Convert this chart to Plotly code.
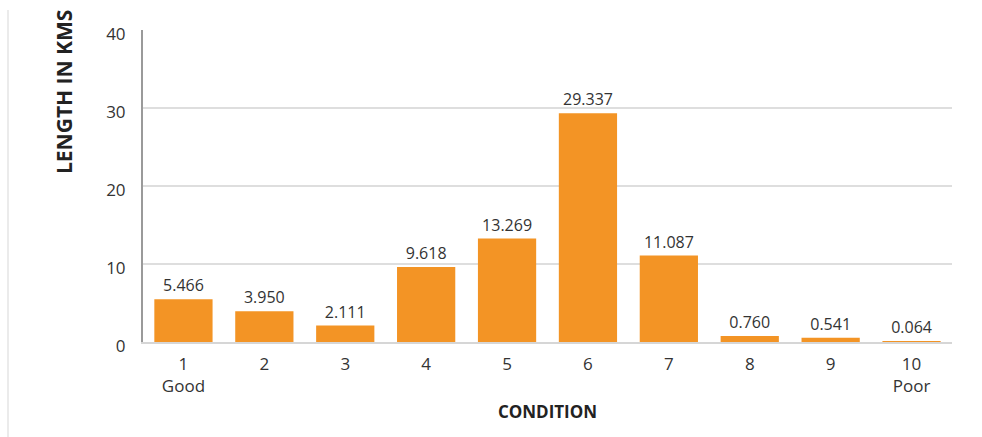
import plotly.graph_objects as go

# Road length by condition rating (1 = good, 10 = poor)
conditions = [1, 2, 3, 4, 5, 6, 7, 8, 9, 10]
tick_labels = ["1<br>Good", "2", "3", "4", "5", "6", "7", "8", "9", "10<br>Poor"]
lengths_km = [5.466, 3.950, 2.111, 9.618, 13.269, 29.337, 11.087, 0.760, 0.541, 0.064]
y_ticks = [0, 10, 20, 30, 40]

W, H = 982, 437
M_L, M_R, M_T, M_B = 143, 30, 30, 95
FONT = "Open Sans"

fig = go.Figure(
    go.Bar(
        x=conditions,
        y=lengths_km,
        marker=dict(color="#F39425", line=dict(width=0)),
        text=[f"{v:.3f}" for v in lengths_km],
        textposition="outside",
        cliponaxis=False,
        textfont=dict(family=FONT, size=16, color="#333333"),
        width=0.72,
    )
)

fig.update_layout(
    width=W,
    height=H,
    margin=dict(l=M_L, r=M_R, t=M_T, b=M_B),
    paper_bgcolor="white",
    plot_bgcolor="white",
    showlegend=False,
    font=dict(family=FONT, size=17, color="#333333"),
    xaxis=dict(
        range=[0.5, 10.5],
        tickmode="array",
        tickvals=conditions,
        ticktext=tick_labels,
        showgrid=False,
        showline=True,
        linecolor="#d6d6d6",
        linewidth=1.5,
        ticks="",
        ticklabelstandoff=6,
        tickfont=dict(size=17, color="#333333"),
        title=dict(text="<b>CONDITION</b>", font=dict(size=17, color="#222222"), standoff=10),
        fixedrange=True,
    ),
    yaxis=dict(
        range=[0, 40],
        tickmode="array",
        tickvals=y_ticks,
        showgrid=True,
        gridcolor="#dedede",
        gridwidth=1.5,
        showline=True,
        linecolor="#9a9a9a",
        linewidth=2,
        zeroline=False,
        ticks="",
        ticklabelstandoff=12,
        ticklabelshift=4,
        tickfont=dict(size=17, color="#333333"),
        fixedrange=True,
    ),
    annotations=[
        dict(
            text="<b>LENGTH IN KMS</b>",
            xref="paper", yref="paper",
            x=(64 - M_L) / (W - M_L - M_R),
            y=(H - M_B - 92) / (H - M_T - M_B),
            textangle=-90,
            showarrow=False,
            font=dict(size=21, color="#222222"),
            xanchor="center", yanchor="middle",
        )
    ],
    shapes=[
        dict(
            type="line",
            xref="paper", yref="paper",
            x0=(8 - M_L) / (W - M_L - M_R), x1=(8 - M_L) / (W - M_L - M_R),
            y0=-(H - M_B) / (H - M_T - M_B), y1=(H - M_B - 10) / (H - M_T - M_B),
            line=dict(color="#e4e4e4", width=1.5),
        )
    ],
)

fig.write_html("out.html")
